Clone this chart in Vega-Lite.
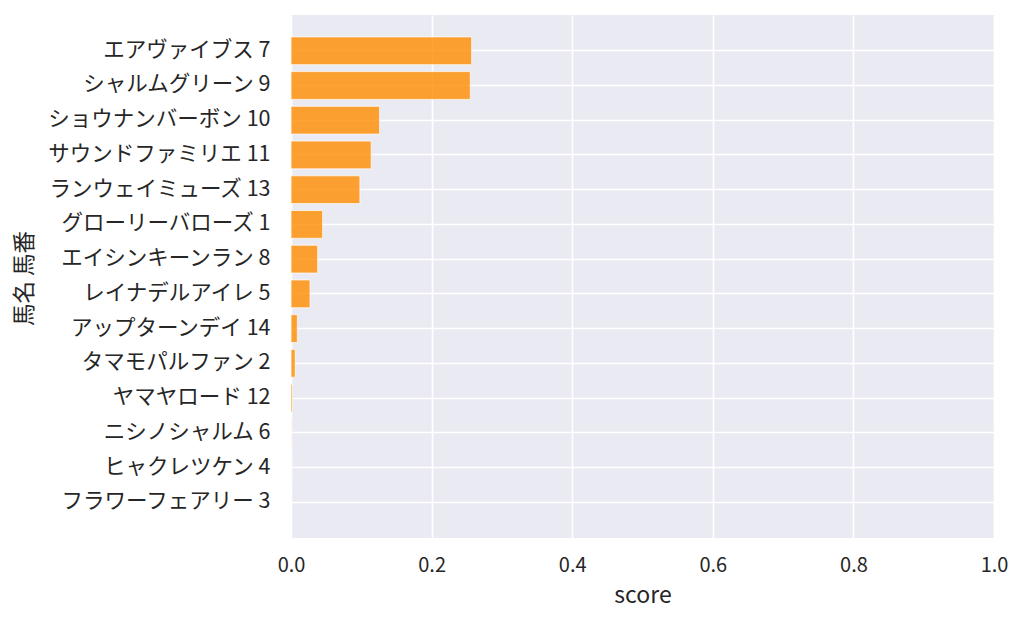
{
  "$schema": "https://vega.github.io/schema/vega-lite/v6.json",
  "width": 703,
  "height": 523,
  "autosize": {"type": "none"},
  "padding": {"left": 291, "top": 15, "right": 30, "bottom": 89},
  "background": "white",
  "config": {
    "view": {"fill": "#EAEAF2", "stroke": null},
    "font": "Noto Sans CJK JP",
    "axis": {
      "domain": false,
      "ticks": false,
      "gridColor": "white",
      "gridWidth": 1.6,
      "labelColor": "#262626",
      "titleColor": "#262626",
      "labelFont": "Noto Sans CJK JP",
      "titleFont": "Noto Sans CJK JP",
      "labelFontSize": 20,
      "titleFontSize": 21,
      "titleFontWeight": "normal"
    }
  },
  "data": {
    "values": [
      {"name": "エアヴァイブス 7", "score": 0.257},
      {"name": "シャルムグリーン 9", "score": 0.255},
      {"name": "ショウナンバーボン 10", "score": 0.126},
      {"name": "サウンドファミリエ 11", "score": 0.114},
      {"name": "ランウェイミューズ 13", "score": 0.098},
      {"name": "グローリーバローズ 1", "score": 0.045},
      {"name": "エイシンキーンラン 8", "score": 0.038},
      {"name": "レイナデルアイレ 5", "score": 0.027},
      {"name": "アップターンデイ 14", "score": 0.009},
      {"name": "タマモパルファン 2", "score": 0.006},
      {"name": "ヤマヤロード 12", "score": 0.002},
      {"name": "ニシノシャルム 6", "score": 0.0005},
      {"name": "ヒャクレツケン 4", "score": 0.0001},
      {"name": "フラワーフェアリー 3", "score": 0.0}
    ]
  },
  "mark": {
    "type": "bar",
    "color": "#FF8C00",
    "fillOpacity": 0.8,
    "stroke": "white",
    "strokeWidth": 1,
    "strokeOpacity": 0.7
  },
  "encoding": {
    "y": {
      "field": "name",
      "type": "nominal",
      "sort": null,
      "title": "馬名 馬番",
      "scale": {"paddingInner": 0.2, "paddingOuter": 0.63},
      "axis": {
        "grid": true,
        "bandPosition": 0.5,
        "labelFontSize": 21.5,
        "labelPadding": 21,
        "labelLimit": 300,
        "titleFontSize": 22.5,
        "titleX": -267,
        "titleY": 263,
        "titleAngle": -90,
        "titleAlign": "center",
        "titleBaseline": "middle"
      }
    },
    "x": {
      "field": "score",
      "type": "quantitative",
      "title": "score",
      "scale": {"domain": [0, 1], "nice": false},
      "axis": {
        "values": [0, 0.2, 0.4, 0.6, 0.8, 1.0],
        "format": ".1f",
        "labelFlush": false,
        "labelPadding": 17,
        "titleFontSize": 23,
        "titlePadding": 9
      }
    }
  }
}
